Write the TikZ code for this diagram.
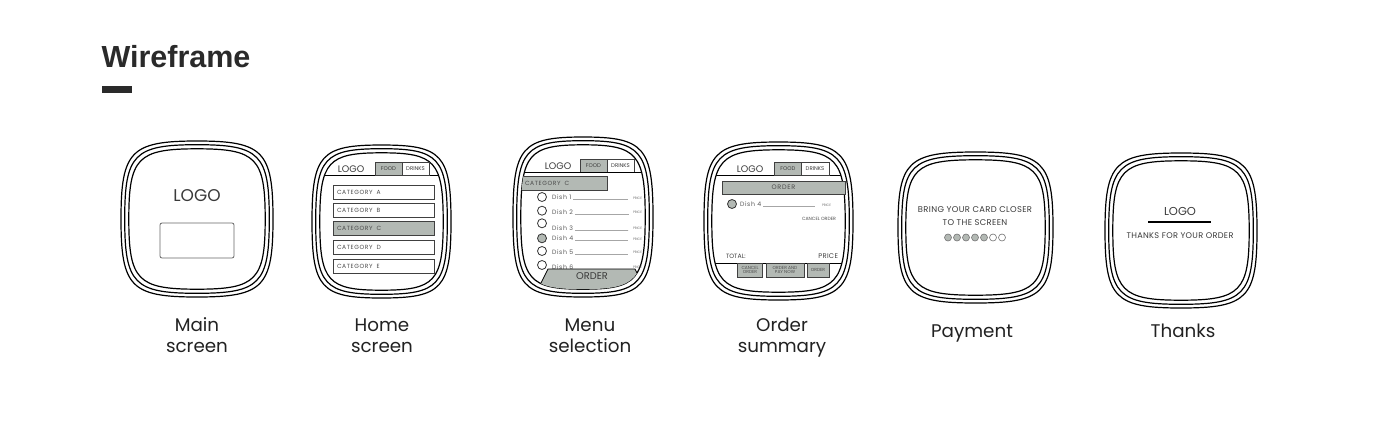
\documentclass[tikz,border=0pt]{standalone}
\usepackage{fontspec}
\usetikzlibrary{calc}
\setmainfont{Poppins}
\newfontfamily\titlefont{Liberation Sans}
\newfontfamily\spfont[LetterSpace=10]{Poppins}
\newfontfamily\spfontb[LetterSpace=4]{Poppins}
\definecolor{wfgray}{HTML}{B3B9B4}
\definecolor{ink}{HTML}{222222}
\definecolor{titleink}{HTML}{2A2A2A}
\definecolor{scrtxt}{HTML}{3A3A3A}
\newcommand\kk{0.87}
% #1 path options, #2 cx, #3 cy, #4 half width, #5 half height
\newcommand\sqpath[5]{%
 \path[#1] ({#2+(#4)},{#3}) .. controls ({#2+(#4)},{#3+\kk*(#5)}) and ({#2+\kk*(#4)},{#3+(#5)}) .. ({#2},{#3+(#5)})
 .. controls ({#2-\kk*(#4)},{#3+(#5)}) and ({#2-(#4)},{#3+\kk*(#5)}) .. ({#2-(#4)},{#3})
 .. controls ({#2-(#4)},{#3-\kk*(#5)}) and ({#2-\kk*(#4)},{#3-(#5)}) .. ({#2},{#3-(#5)})
 .. controls ({#2+\kk*(#4)},{#3-(#5)}) and ({#2+(#4)},{#3-\kk*(#5)}) .. cycle;}
\newcommand\device[4]{%
 \sqpath{frameline}{#1}{#2}{#3}{#4}%
 \sqpath{frameline}{#1}{#2}{#3-3.7}{#4-3.7}%
 \sqpath{frameline}{#1}{#2}{#3-7.8}{#4-7.8}}
\newcommand\inclip[4]{\sqpath{clip}{#1}{#2}{#3-7.8}{#4-7.8}}
\begin{document}
\begin{tikzpicture}[x=1pt,y=-1pt,
 every node/.style={inner sep=0pt, outer sep=0pt},
 frameline/.style={draw=black, line width=1.2pt},
 tab/.style={draw=black!75, line width=0.6pt, minimum width=27pt, minimum height=13pt,
   font=\fontsize{5.4}{6}\selectfont, text=scrtxt},
 catbox/.style={draw=black!75, line width=0.7pt, minimum height=14pt, text width=93pt,
   inner xsep=4pt, align=left, anchor=west, font=\spfont\fontsize{6}{6}\selectfont, text=black!70},
 dish/.style={circle, draw=black!80, line width=0.8pt, minimum size=9pt},
 dishtxt/.style={anchor=west, font=\spfont\fontsize{6.2}{6.2}\selectfont, text=black!65},
 price/.style={anchor=west, font=\fontsize{3.3}{3.5}\selectfont, text=black!60},
 btn/.style={draw=black!75, line width=0.6pt, fill=wfgray, minimum height=14pt, align=center,
   font=\fontsize{4.4}{4.9}\selectfont, text=black!70},
 lbl/.style={font=\fontsize{18.3}{19}\selectfont, text=ink, anchor=base},
 dotline/.style={draw=black!35, line width=0.3pt, dash pattern=on 0.3pt off 0.6pt},
 sep/.style={draw=black, line width=0.9pt}]
\useasboundingbox (0,0) rectangle (1400,429);
\fill[white] (0,0) rectangle (1400,429);

% title
\node[anchor=base west, font=\titlefont\bfseries\fontsize{30.5}{30.5}\selectfont, text=titleink] (title) at (101.5,67) {Wireframe};
\node[fill=titleink, minimum width=30pt, minimum height=6.5pt, anchor=north west] (titlebar) at (102,86) {};

% ---------- Main screen
\device{197}{219}{76}{78}
\node[anchor=base, font=\fontsize{17}{17}\selectfont, text=scrtxt] (m-logo) at (197,201) {LOGO};
\node[draw=black!60, line width=0.8pt, rounded corners=2pt, minimum width=74pt, minimum height=35pt] (m-box) at (197,240.5) {};

% ---------- Home screen
\device{381.5}{221.5}{69.5}{76.5}
\begin{scope}
 \inclip{381.5}{221.5}{69.5}{76.5}
 \draw[sep] (300,175) -- (460,175);
\end{scope}
\node[anchor=base, font=\fontsize{9.5}{9.5}\selectfont, text=scrtxt] (h-logo) at (351,172) {LOGO};
\node[tab, fill=wfgray] (h-food) at (388.5,168.5) {FOOD};
\node[tab, fill=white] (h-drinks) at (415.5,168.5) {DRINKS};
\node[catbox] (h-a) at (333,192) {CATEGORY\ \ A};
\node[catbox] (h-b) at (333,210) {CATEGORY\ \ B};
\node[catbox, fill=wfgray] (h-c) at (333,228.5) {CATEGORY\ \ C};
\node[catbox] (h-d) at (333,247) {CATEGORY\ \ D};
\node[catbox] (h-e) at (333,266) {CATEGORY\ \ E};

% ---------- Menu selection
\device{583}{217}{70}{80}
\node[anchor=base, font=\fontsize{9.5}{9.5}\selectfont, text=scrtxt] (s-logo) at (558,169) {LOGO};
\node[tab, fill=wfgray] (s-food) at (593.5,165.5) {FOOD};
\node[tab, fill=white] (s-drinks) at (620.5,165.5) {DRINKS};
\foreach \i/\cy/\ty/\f in {1/197/197/white, 2/210.7/211.7/white, 3/223.3/227.7/white, 4/238.3/238.3/wfgray, 5/251/251.7/white, 6/265/266.7/white}{
 \node[dish, fill=\f] (s-c\i) at (542,\cy) {};
 \node[dishtxt] (s-t\i) at (552,\ty) {Dish \i};
 \draw[dotline] ($(s-t\i.east)+(2,2.2)$) coordinate (s-ds\i) -- (628,\ty+2.2) coordinate (s-de\i);
 \node[price] (s-p\i) at (633,\ty+1) {PRICE};
}
\begin{scope}
 \inclip{583}{217}{70}{80}
 \draw[sep] (500,172) -- (660,172);
 \node[catbox, fill=wfgray, text width=84pt, inner xsep=4pt] (s-cat) at (515,183) {\hspace*{6pt}CATEGORY\ \ C};
 \path[fill=wfgray, draw=black, line width=0.8pt] (548,269) -- (635,269) -- (647,293) -- (536,293) -- cycle;
\end{scope}
\node[font=\fontsize{9.8}{9.8}\selectfont, text=scrtxt] (s-order) at (592,276.5) {ORDER};

% ---------- Order summary
\device{778.5}{221}{74.5}{79}
\begin{scope}
 \inclip{778.5}{221}{74.5}{79}
 \draw[sep] (690,175) -- (870,175);
 \draw[sep] (690,263) -- (870,263);
\end{scope}
\node[anchor=base, font=\fontsize{9.5}{9.5}\selectfont, text=scrtxt] (o-logo) at (750,172.3) {LOGO};
\node[tab, fill=wfgray] (o-food) at (788,168.5) {FOOD};
\node[tab, fill=white, minimum width=28pt] (o-drinks) at (815,168.5) {DRINKS};
\node[draw=black!75, line width=0.7pt, fill=wfgray, minimum width=123pt, minimum height=13pt,
  font=\spfont\fontsize{6.5}{6.5}\selectfont, text=black!70] (o-order) at (783.5,187.5) {ORDER};
\node[dish, fill=wfgray] (o-c4) at (732,204) {};
\node[dishtxt] (o-t4) at (740,204) {Dish 4};
\draw[dotline] ($(o-t4.east)+(2,2.2)$) coordinate (o-ds) -- (815,206.2) coordinate (o-de);
\node[price] (o-p4) at (822,205) {PRICE};
\node[font=\fontsize{4.6}{4.6}\selectfont, text=black!70] (o-cancel) at (819,219) {CANCEL ORDER};
\node[anchor=base west, font=\fontsize{6.2}{6.5}\selectfont, text=black!75] (o-total) at (726,258.3) {TOTAL:};
\node[anchor=base east, font=\spfontb\fontsize{6.8}{7}\selectfont, text=black!75] (o-price) at (838,258.3) {PRICE};
\node[btn, minimum width=25pt, anchor=north west] (o-b1) at (737.5,263) {CANCEL\\ORDER};
\node[btn, minimum width=38pt, anchor=north west] (o-b2) at (766,263) {ORDER AND\\PAY NOW};
\node[btn, minimum width=22pt, anchor=north west] (o-b3) at (807,263) {ORDER};

% ---------- Payment
\device{975.5}{227.5}{77.5}{75.5}
\node[anchor=base, font=\spfontb\fontsize{8.4}{9}\selectfont, text=scrtxt] (p-l1) at (975,212.7) {BRING YOUR CARD CLOSER};
\node[anchor=base, font=\spfontb\fontsize{8.4}{9}\selectfont, text=scrtxt] (p-l2) at (975,225.8) {TO THE SCREEN};
\foreach \i in {0,...,6}{
 \pgfmathsetmacro\dfill{\i<5 ? "wfgray" : "white"}
 \node[circle, draw=black!55, line width=0.6pt, fill=\dfill, minimum size=7pt] (p-d\i) at (948+9*\i,237.5) {};
}

% ---------- Thanks
\device{1181}{230.5}{76}{77.5}
\node[anchor=base, font=\fontsize{11.5}{11.5}\selectfont, text=scrtxt] (t-logo) at (1180,215) {LOGO};
\coordinate (t-l) at (1148,222);
\coordinate (t-r) at (1211,222);
\draw[line width=1.1pt] (t-l) -- (t-r);
\node[anchor=base, font=\spfontb\fontsize{8.2}{8.5}\selectfont, text=scrtxt] (t-msg) at (1180,238.5) {THANKS FOR YOUR ORDER};

% ---------- labels
\node[lbl] (l-main1) at (197,331.5) {Main};
\node[lbl] (l-main2) at (197,352) {screen};
\node[lbl] (l-home1) at (382,331.5) {Home};
\node[lbl] (l-home2) at (382,352) {screen};
\node[lbl] (l-menu1) at (590,331.5) {Menu};
\node[lbl] (l-menu2) at (590,352) {selection};
\node[lbl] (l-ord1) at (782,331.5) {Order};
\node[lbl] (l-ord2) at (782,352) {summary};
\node[lbl] (l-pay) at (972,337) {Payment};
\node[lbl] (l-thx) at (1183,337) {Thanks};
\end{tikzpicture}
\end{document}
